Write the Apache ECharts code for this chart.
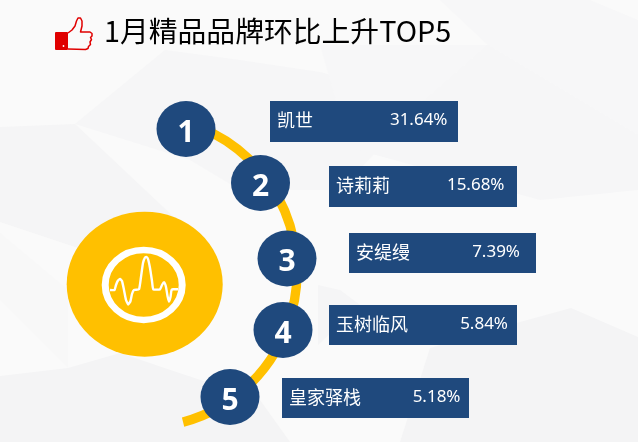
<!DOCTYPE html>
<html><head><meta charset="utf-8">
<style>html,body{margin:0;padding:0;background:#fafafa}#c{width:638px;height:442px}</style>
<script src="https://cdn.jsdelivr.net/npm/echarts@6/dist/echarts.min.js"></script>
</head><body><div id="c"></div>
<script>
// ---- data ----
const titleText = '1月精品品牌环比上升TOP5';
const ranks = ['1', '2', '3', '4', '5'];
const brands = ['凯世', '诗莉莉', '安缇缦', '玉树临风', '皇家驿栈'];
const shares = ['31.64%', '15.68%', '7.39%', '5.84%', '5.18%'];

// ---- layout (pixel anchors of this infographic) ----
const circleX = [186, 260.5, 287, 283, 230];
const circleY = [129, 183, 258.5, 330, 397];
const cardLeft = [270, 329, 349, 329, 282];
const cardTop = [101, 166, 233, 305, 378];
const cardW = [188, 188, 187, 188, 187];
const cardH = [41, 41, 40, 40, 40];
const valueRight = [447.5, 504.5, 520, 508, 460.5];

const NAVY = '#1f497d', GOLD = '#ffc000';
const CJK = '"Noto Sans CJK SC","Noto Sans",sans-serif';
const LAT = '"Noto Sans","Noto Sans CJK SC",sans-serif';

const facets = [
  {p:[[0,127],[75,124],[178,221],[120,262],[0,222]], f:'#f5f5f6'},
  {p:[[75,124],[165,50],[240,60],[320,72],[425,100],[340,190],[240,190],[190,160]], f:'#f6f6f7'},
  {p:[[320,45],[488,45],[425,100],[340,115]], f:'#f7f7f8'},
  {p:[[440,0],[590,0],[638,20],[638,135],[488,45]], f:'#f7f7f8'},
  {p:[[425,100],[488,45],[638,135],[638,190],[540,200],[343,146]], f:'#f6f6f7'},
  {p:[[0,376],[68,368],[120,353],[260,400],[290,442],[0,442]], f:'#f4f4f5'},
  {p:[[430,348],[520,322],[571,308],[638,337],[638,442],[400,442]], f:'#f4f4f5'},
  {p:[[318,285],[340,290],[360,305],[318,345]], f:'#f5f5f6'},
  {p:[[0,233],[68,290],[68,368],[0,300]], f:'#f8f8f8'}
];
const wavePts = [[110,290],[114.5,290],[116,285],[118,280.5],[120,279],[122,281],[124,290],[126,300],[128.3,304.5],[130.5,301],[132,294],[134,290],[139,289.3],[141,277],[143,263],[145,257.5],[146.5,257],[148,259],[150,268],[152,281],[153.3,289.3],[160,289.3],[162,285],[164,282.3],[166,287],[167.5,296],[169,301.5],[170.5,297],[171.5,290],[173,289.3],[178,289.3]];
const thumbPts = [[68,33],[72,30],[75,26],[76.5,21],[78,18],[80.5,18],[82,21],[82,26],[80.5,32],[90,32],[92,33.5],[92,36],[90.5,37.5],[91.5,39.5],[90,42],[90.5,44.5],[88.5,46.5],[88,48.5],[85.5,49.5],[68,49]];

const decor = facets.map(o => ({type:'polygon', z:0, silent:true, shape:{points:o.p}, style:{fill:o.f}}));
decor.push(
  {type:'arc', z:1, silent:true, originX:145, originY:272, scaleX:152/155,
   shape:{cx:145, cy:272, r:155, startAngle:-74*Math.PI/180, endAngle:75.5*Math.PI/180, clockwise:true},
   style:{fill:'none', stroke:GOLD, lineWidth:9.5}},
  {type:'circle', z:1, silent:true, originX:144.7, originY:284.2, scaleY:72.5/78,
   shape:{cx:144.7, cy:284.2, r:78}, style:{fill:GOLD}},
  {type:'circle', z:1, silent:true, originX:143.7, originY:285, scaleY:35/38.5,
   shape:{cx:143.7, cy:285, r:38.5}, style:{fill:'none', stroke:'#fff', lineWidth:7}},
  {type:'polyline', z:1, silent:true, shape:{points:wavePts, smooth:0.15}, style:{fill:'none', stroke:'#fff', lineWidth:2.4, lineJoin:'round'}},
  {type:'rect', z:1, silent:true, shape:{x:55, y:32, width:13, height:18, r:1}, style:{fill:'#e00000'}},
  {type:'circle', z:1, silent:true, shape:{cx:63.5, cy:46, r:0.9}, style:{fill:'#fff'}},
  {type:'polyline', z:1, silent:true, shape:{points:thumbPts}, style:{fill:'none', stroke:'#e00000', lineWidth:1.5, lineJoin:'round'}}
);

const chart = echarts.init(document.getElementById('c'), null, {renderer:'canvas', width:638, height:442});
chart.setOption({
  animation:false,
  backgroundColor:'#fafafa',
  title:{text:titleText, left:99, top:12, textStyle:{fontFamily:CJK, fontSize:28.8, fontWeight:'normal', color:'#000'}},
  grid:{left:0, right:0, top:0, bottom:0},
  xAxis:{type:'value', min:0, max:638, show:false},
  yAxis:{type:'value', min:0, max:442, inverse:true, show:false},
  graphic:{elements:decor},
  series:[
    {
      type:'custom', z:3, silent:true,
      data:brands.map((b,i)=>[i]),
      renderItem:function(params, api){
        const i = api.value(0);
        const tl = api.coord([cardLeft[i], cardTop[i]]);
        const cy = tl[1] + cardH[i]/2;
        return {type:'group', children:[
          {type:'rect', shape:{x:tl[0], y:tl[1], width:cardW[i], height:cardH[i]}, style:{fill:NAVY}},
          {type:'text', style:{x:tl[0]+7, y:cy-1, text:brands[i], fill:'#fff', font:'18px '+CJK, align:'left', verticalAlign:'middle'}},
          {type:'text', style:{x:valueRight[i], y:cy-1, text:shares[i], fill:'#fff', font:'17px '+LAT, align:'right', verticalAlign:'middle'}}
        ]};
      }
    },
    {
      type:'scatter', z:4, silent:true,
      symbol:'circle', symbolSize:[59,56],
      itemStyle:{color:NAVY, opacity:1},
      data:ranks.map((r,i)=>({value:[circleX[i], circleY[i]], name:r})),
      label:{show:true, position:'inside', formatter:'{b}', color:'#fff', fontFamily:'"Open Sans",sans-serif', fontWeight:'bold', fontSize:30, offset:[0,4]}
    }
  ]
});
</script></body></html>
